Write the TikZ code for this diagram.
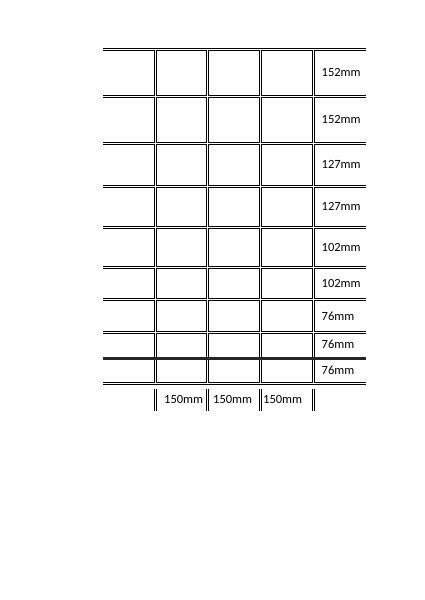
\documentclass[tikz,border=0pt]{standalone}
\usepackage{fontspec}
\setmainfont{Carlito}
\begin{document}
\begin{tikzpicture}[x=1pt,y=-1pt,
  wire/.style={draw=black,line width=1.2pt,double=white,double distance=1pt},
  heavywire/.style={draw=black!85,line width=3.4pt},
  lbl/.style={anchor=west,inner sep=0pt,font=\fontsize{12.5}{14}\selectfont}]
\useasboundingbox (0,0) rectangle (424,600);
\fill[white] (0,0) rectangle (424,600);
% grid of double wires
\draw[wire]
  (103,49.5) -- (366,49.5)
  (103,96.5) -- (366,96.5)
  (103,143.5) -- (366,143.5)
  (103,186.5) -- (366,186.5)
  (103,227.5) -- (366,227.5)
  (103,267.5) -- (366,267.5)
  (103,299.5) -- (366,299.5)
  (103,332.5) -- (366,332.5)
  (103,383.5) -- (366,383.5)
  (155.5,49.5) -- (155.5,383.5)
  (207.5,49.5) -- (207.5,383.5)
  (260.5,49.5) -- (260.5,383.5)
  (313.5,49.5) -- (313.5,383.5);
\draw[wire]
  (155.5,389) -- (155.5,411)
  (207.5,389) -- (207.5,411)
  (260.5,389) -- (260.5,411)
  (313.5,389) -- (313.5,411);
% heavy line
\draw[heavywire] (103,358.5) -- (366,358.5);
% right labels
\node[lbl] (r1) at (321.5,72.5) {152mm};
\node[lbl] (r2) at (321.5,119.5) {152mm};
\node[lbl] (r3) at (321.5,164.5) {127mm};
\node[lbl] (r4) at (321.5,206.5) {127mm};
\node[lbl] (r5) at (321.5,247) {102mm};
\node[lbl] (r6) at (321.5,283) {102mm};
\node[lbl] (r7) at (321.5,316) {76mm};
\node[lbl] (r8) at (321.5,344.5) {76mm};
\node[lbl] (r9) at (321.5,370) {76mm};
% bottom labels
\node[lbl] (b1) at (164,399.5) {150mm};
\node[lbl] (b2) at (213,399.5) {150mm};
\node[lbl] (b3) at (263,399.5) {150mm};
\end{tikzpicture}
\end{document}
